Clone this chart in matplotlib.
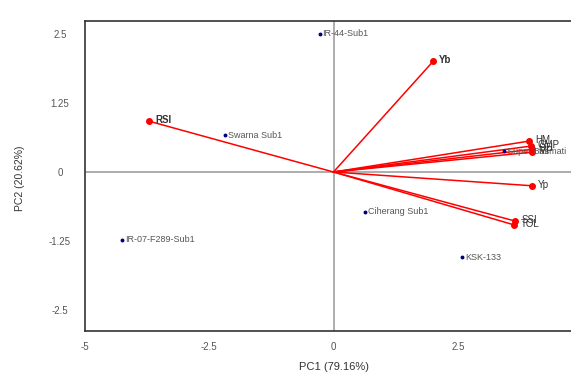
import numpy as np
import matplotlib
matplotlib.use('Agg')
from matplotlib import pyplot as plt

plt.rcParams['font.family'] = ['Liberation Sans', 'DejaVu Sans']

# Genotype scores on PC1 / PC2
genotypes = ['IR-44-Sub1', 'Swarna Sub1', 'Super Basmati', 'Ciherang Sub1',
             'IR-07-F289-Sub1', 'KSK-133']
geno_pc1 = [-0.28, -2.19, 3.43, 0.64, -4.26, 2.59]
geno_pc2 = [2.50, 0.67, 0.38, -0.72, -1.23, -1.54]

# Index loadings (vectors from origin)
indices = ['Yb', 'RSI', 'HM', 'GMP', 'STI', 'MP', 'Yp', 'SSI', 'TOL']
idx_pc1 = [2.01, -3.71, 3.94, 3.98, 4.00, 4.00, 4.00, 3.66, 3.64]
idx_pc2 = [2.01, 0.92, 0.56, 0.47, 0.41, 0.36, -0.25, -0.89, -0.96]

x_ticks = [-5, -2.5, 0, 2.5]
y_ticks = [-2.5, -1.25, 0, 1.25, 2.5]

fig = plt.figure(figsize=(5.71, 3.73), dpi=100)
ax = fig.add_axes([85/571, 1 - 331/373, (582 - 85)/571, (331 - 21)/373])
ax.set_xlim(-5, 5)
ax.set_ylim(-2.88, 2.735)

ax.axhline(0, color='#a0a0a0', lw=1.2, zorder=1)
ax.axvline(0, color='#a0a0a0', lw=1.2, zorder=1)

for name, x, y in zip(indices, idx_pc1, idx_pc2):
    ax.plot([0, x], [0, y], color='red', lw=1.1, zorder=2)
    ax.plot(x, y, 'o', color='red', ms=4, zorder=3)

ax.plot(geno_pc1, geno_pc2, 'o', color='#00007a', ms=1.8, zorder=4)
for name, x, y in zip(genotypes, geno_pc1, geno_pc2):
    ax.text(x + 0.06, y, name, fontsize=6.5, color='#555555', va='center', ha='left',
            zorder=5, clip_on=False)

for name, x, y in zip(indices, idx_pc1, idx_pc2):
    bold = name in ('Yb', 'RSI')
    ax.text(x + 0.12, y + 0.02, name, fontsize=7, color='#333333', va='center', ha='left',
            fontweight='bold' if bold else 'normal', zorder=5, clip_on=False)

ax.set_xticks(x_ticks)
ax.set_xticklabels(['-5', '-2.5', '0', '2.5'])
ax.set_yticks(y_ticks)
ax.set_yticklabels(['-2.5', '-1.25', '0', '1.25', '2.5'])
ax.tick_params(axis='both', length=0, labelsize=7, labelcolor='#555555')
ax.tick_params(axis='x', pad=8)
ax.tick_params(axis='y', pad=18)
for lbl in ax.get_yticklabels():
    lbl.set_horizontalalignment('center')

for side in ('left', 'bottom', 'top', 'right'):
    ax.spines[side].set_color('#333333')
    ax.spines[side].set_linewidth(1.2)

fig.text(334/571, 1 - 367/373, 'PC1 (79.16%)', fontsize=8, color='#333333',
         ha='center', va='center')
fig.text(20/571, 1 - 178/373, 'PC2 (20.62%)', fontsize=7.5, color='#333333',
         ha='center', va='center', rotation=90)

fig.savefig('out.png', dpi=100)
